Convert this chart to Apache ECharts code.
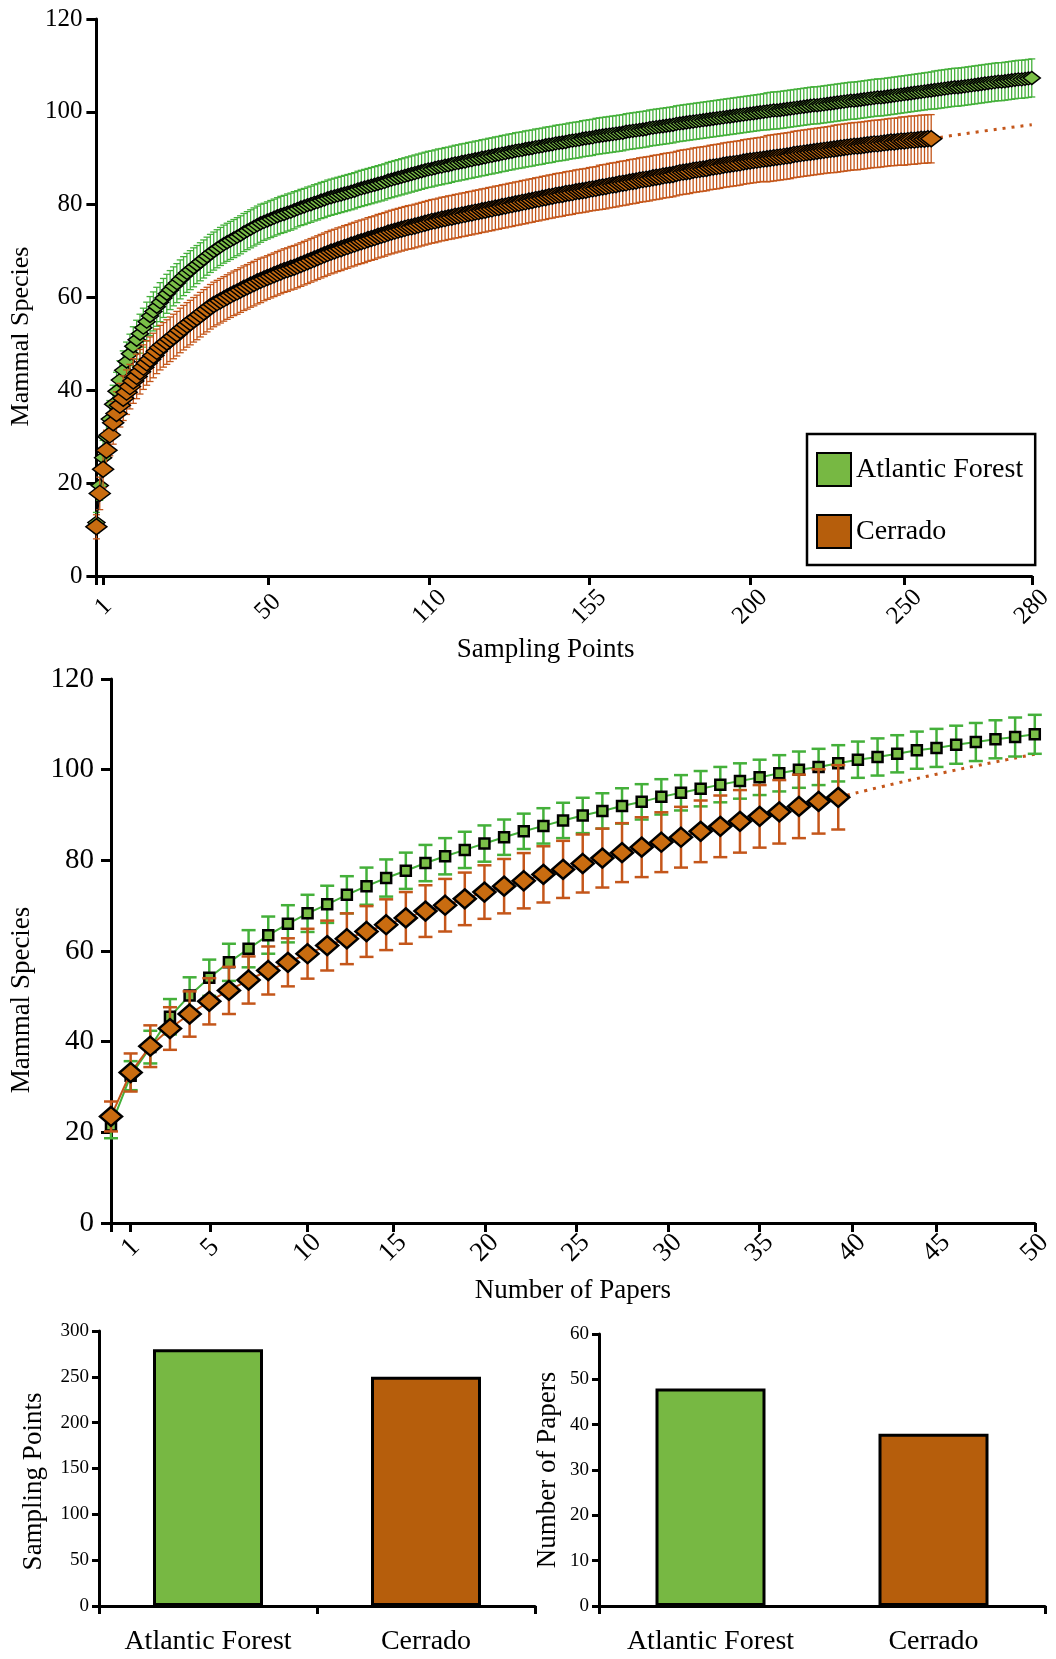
<!DOCTYPE html>
<html><head><meta charset="utf-8">
<script src="https://cdn.jsdelivr.net/npm/echarts@6/dist/echarts.min.js"></script>
<style>html,body{margin:0;padding:0;background:#fff}#c{width:1056px;height:1659px}</style>
</head><body><div id="c"></div>
<script>
// ---------- Top chart: species vs sampling points ----------
const topAtlantic = [
11.5,19.5,25.5,30.0,33.8,37.0,39.8,42.2,44.3,46.2,
47.9,49.5,50.9,52.2,53.5,54.8,56.0,57.0,58.0,59.0,
59.9,60.8,61.6,62.4,63.1,63.9,64.6,65.3,65.9,66.5,
67.1,67.7,68.3,68.9,69.5,70.0,70.5,71.0,71.5,71.9,
72.3,72.7,73.1,73.5,74.0,74.4,74.8,75.2,75.6,76.0,
76.3,76.6,76.9,77.2,77.5,77.8,78.0,78.3,78.5,78.8,
79.1,79.4,79.6,79.9,80.1,80.4,80.6,80.9,81.1,81.4,
81.6,81.8,82.0,82.2,82.4,82.6,82.8,83.0,83.3,83.5,
83.7,83.9,84.1,84.3,84.5,84.7,84.9,85.2,85.4,85.6,
85.8,86.0,86.2,86.4,86.6,86.8,87.0,87.2,87.4,87.6,
87.7,87.9,88.1,88.2,88.4,88.5,88.7,88.9,89.0,89.2,
89.3,89.5,89.6,89.8,89.9,90.1,90.2,90.4,90.5,90.7,
90.8,91.0,91.1,91.3,91.4,91.6,91.7,91.8,92.0,92.1,
92.2,92.4,92.5,92.6,92.8,92.9,93.0,93.2,93.3,93.4,
93.5,93.7,93.8,93.9,94.0,94.2,94.3,94.4,94.5,94.7,
94.8,94.9,95.0,95.1,95.2,95.3,95.4,95.5,95.7,95.8,
95.9,96.0,96.1,96.2,96.3,96.5,96.6,96.7,96.8,96.9,
97.0,97.1,97.2,97.4,97.5,97.6,97.7,97.8,97.9,98.0,
98.1,98.2,98.3,98.4,98.5,98.6,98.7,98.8,98.9,99.0,
99.1,99.2,99.3,99.4,99.5,99.6,99.7,99.8,99.9,100.0,
100.1,100.2,100.3,100.3,100.4,100.5,100.6,100.7,100.8,100.9,
101.0,101.1,101.2,101.3,101.4,101.4,101.5,101.6,101.7,101.8,
101.9,102.0,102.1,102.2,102.3,102.4,102.4,102.5,102.6,102.7,
102.8,102.9,103.0,103.1,103.1,103.2,103.3,103.4,103.5,103.6,
103.7,103.8,103.9,104.0,104.1,104.2,104.3,104.4,104.5,104.6,
104.7,104.8,104.9,105.0,105.1,105.2,105.3,105.3,105.4,105.5,
105.6,105.7,105.8,105.9,106.0,106.1,106.2,106.3,106.4,106.5,
106.5,106.6,106.7,106.8,106.9,107.0,107.0,107.1,107.2,107.3];
const topAtlanticSd = [
2.2,3.2,3.7,3.9,4.0,4.1,4.1,4.2,4.2,4.2,
4.2,4.2,4.2,4.2,4.2,4.2,4.2,4.2,4.2,4.2,
4.2,4.2,4.2,4.2,4.2,4.2,4.2,4.2,4.2,4.2,
4.1,4.1,4.1,4.1,4.1,4.1,4.1,4.1,4.1,4.1,
4.1,4.1,4.1,4.1,4.1,4.1,4.1,4.1,4.1,4.1,
4.0,4.0,4.0,4.0,4.0,4.0,4.0,4.0,4.0,4.0,
3.9,3.9,3.9,3.9,3.9,3.9,3.9,3.9,3.9,3.9,
3.9,3.9,3.9,3.9,3.9,3.9,3.9,3.9,3.9,3.9,
3.9,3.9,3.9,3.9,3.9,3.9,3.9,3.9,3.9,3.9,
3.9,3.9,3.9,3.9,3.9,3.9,3.9,3.9,3.9,3.9,
3.9,3.9,3.9,3.9,3.9,3.9,3.9,3.9,3.9,3.9,
3.9,3.9,3.9,3.9,3.9,3.9,3.9,3.9,3.9,3.9,
3.9,3.9,3.9,3.9,3.9,3.9,3.9,3.9,3.9,3.9,
3.9,3.9,3.9,3.9,3.9,3.9,3.9,3.9,3.9,3.9,
3.9,3.9,3.9,3.9,3.9,3.9,3.9,3.9,3.9,3.9,
3.9,3.9,3.9,3.9,3.9,3.9,3.9,3.9,3.9,3.9,
3.9,3.9,3.9,3.9,3.9,3.9,3.9,3.9,3.9,3.9,
3.9,3.9,3.9,3.9,3.9,3.9,3.9,3.9,3.9,3.9,
3.9,3.9,3.9,3.9,3.9,3.9,3.9,3.9,3.9,3.9,
3.9,3.9,3.9,3.9,3.9,3.9,3.9,3.9,3.9,3.9,
4.0,4.0,4.0,4.0,4.0,4.0,4.0,4.0,4.0,4.0,
4.0,4.0,4.0,4.0,4.0,4.0,4.0,4.0,4.0,4.0,
4.0,4.0,4.0,4.0,4.0,4.0,4.0,4.0,4.0,4.0,
4.0,4.0,4.0,4.0,4.0,4.0,4.0,4.0,4.0,4.0,
4.0,4.0,4.0,4.0,4.0,4.0,4.0,4.0,4.0,4.0,
4.1,4.1,4.1,4.1,4.1,4.1,4.1,4.1,4.1,4.1,
4.1,4.1,4.1,4.1,4.1,4.1,4.1,4.1,4.1,4.1,
4.1,4.1,4.1,4.1,4.1,4.1,4.1,4.1,4.1,4.1];
const topCerrado = [
10.6,17.8,23.0,27.1,30.4,33.0,35.0,36.8,38.3,39.6,
40.8,42.0,43.0,44.0,45.0,45.9,46.7,47.5,48.4,49.2,
49.8,50.4,51.0,51.6,52.2,52.9,53.5,54.1,54.6,55.2,
55.7,56.3,56.9,57.4,58.0,58.5,58.9,59.3,59.7,60.1,
60.5,60.9,61.2,61.6,62.0,62.3,62.7,63.0,63.4,63.7,
64.0,64.3,64.6,64.9,65.2,65.5,65.8,66.0,66.3,66.5,
66.8,67.1,67.4,67.7,68.0,68.3,68.6,68.9,69.2,69.5,
69.8,70.0,70.3,70.5,70.8,71.0,71.3,71.5,71.8,72.0,
72.2,72.5,72.7,72.9,73.2,73.4,73.6,73.9,74.1,74.3,
74.5,74.7,74.9,75.1,75.2,75.4,75.6,75.8,76.0,76.2,
76.4,76.5,76.7,76.9,77.0,77.2,77.3,77.5,77.6,77.8,
77.9,78.1,78.2,78.4,78.5,78.7,78.8,79.0,79.1,79.3,
79.4,79.6,79.7,79.9,80.0,80.2,80.3,80.5,80.6,80.8,
80.9,81.1,81.2,81.4,81.5,81.7,81.8,82.0,82.1,82.2,
82.4,82.5,82.6,82.8,82.9,83.0,83.1,83.3,83.4,83.5,
83.7,83.8,83.9,84.1,84.2,84.3,84.5,84.6,84.7,84.9,
85.0,85.1,85.3,85.4,85.5,85.6,85.8,85.9,86.0,86.2,
86.3,86.4,86.5,86.7,86.9,87.0,87.1,87.2,87.4,87.5,
87.6,87.7,87.8,88.0,88.1,88.2,88.3,88.5,88.6,88.7,
88.8,88.9,89.0,89.2,89.3,89.4,89.5,89.6,89.7,89.8,
89.9,90.0,90.1,90.2,90.3,90.4,90.5,90.6,90.8,90.9,
91.0,91.1,91.2,91.3,91.4,91.5,91.6,91.7,91.8,91.9,
92.0,92.1,92.2,92.3,92.4,92.5,92.6,92.6,92.7,92.8,
92.9,93.0,93.1,93.1,93.2,93.3,93.4,93.5,93.5,93.6,
93.7,93.7,93.8,93.9,93.9,94.0,94.1,94.1,94.2,94.2];
const topCerradoSd = [
2.6,3.5,4.0,4.3,4.5,4.6,4.7,4.7,4.8,4.8,
4.8,4.8,4.8,4.8,4.8,4.8,4.8,4.8,4.8,4.8,
4.8,4.8,4.8,4.8,4.8,4.8,4.8,4.8,4.8,4.8,
4.8,4.8,4.8,4.8,4.8,4.8,4.8,4.8,4.8,4.8,
4.8,4.8,4.8,4.8,4.8,4.8,4.8,4.8,4.8,4.8,
4.7,4.7,4.7,4.7,4.7,4.7,4.7,4.7,4.7,4.7,
4.7,4.7,4.7,4.7,4.7,4.7,4.7,4.7,4.7,4.7,
4.7,4.7,4.7,4.7,4.7,4.7,4.7,4.7,4.7,4.7,
4.7,4.7,4.7,4.7,4.7,4.7,4.7,4.7,4.7,4.7,
4.7,4.7,4.7,4.7,4.7,4.7,4.7,4.7,4.7,4.7,
4.7,4.7,4.7,4.7,4.7,4.7,4.7,4.7,4.7,4.7,
4.7,4.7,4.7,4.7,4.7,4.7,4.7,4.7,4.7,4.7,
4.7,4.7,4.7,4.7,4.7,4.7,4.7,4.7,4.7,4.7,
4.7,4.7,4.7,4.7,4.7,4.7,4.7,4.7,4.7,4.7,
4.7,4.7,4.7,4.7,4.7,4.7,4.7,4.7,4.7,4.7,
4.8,4.8,4.8,4.8,4.8,4.8,4.8,4.8,4.8,4.8,
4.8,4.8,4.8,4.8,4.8,4.8,4.8,4.8,4.8,4.8,
4.8,4.8,4.8,4.8,4.8,4.8,4.8,4.8,4.8,4.8,
4.8,4.8,4.8,4.8,4.8,4.8,4.8,4.8,4.8,4.8,
4.8,4.8,4.8,4.8,4.8,4.8,4.8,4.8,4.8,4.8,
5.0,5.0,5.0,5.0,5.0,5.0,5.0,5.0,5.0,5.0,
5.0,5.0,5.0,5.0,5.0,5.0,5.0,5.0,5.0,5.0,
5.1,5.1,5.1,5.1,5.1,5.1,5.1,5.1,5.1,5.1,
5.1,5.1,5.1,5.1,5.1,5.1,5.1,5.1,5.1,5.1,
5.2,5.2,5.2,5.2,5.2,5.2,5.2,5.2,5.2,5.2];
// dotted extrapolation of Cerrado (sample index, species)
const topCerradoExtrapIdx = [249, 264, 279];
const topCerradoExtrapVal = [94.2, 95.8, 97.2];
// odd tick labels of the original x axis, at their positions in sample-index units
const topTickLabels = ['1','50','110','155','200','250','280'];
const topTickPos = [2.1, 51.2, 99.4, 147.0, 195.0, 241.1, 279];

// ---------- Middle chart: species vs number of papers ----------
const papAtlantic = [21.5,32.5,38.8,45.5,50.2,54.1,57.5,60.5,63.5,66.0,
68.3,70.3,72.4,74.3,76.1,77.7,79.4,80.9,82.3,83.7,
85.1,86.4,87.6,88.8,89.9,90.9,92.0,92.9,94.0,94.9,
95.8,96.7,97.5,98.3,99.2,100.0,100.6,101.4,102.2,102.8,
103.5,104.3,104.8,105.5,106.1,106.7,107.2,107.8];
const papAtlanticSd = [2.8,3.2,3.6,3.9,4.0,4.0,4.1,4.1,4.1,4.1,
4.1,4.1,4.1,4.1,4.1,4.0,4.0,4.0,4.0,4.0,
3.9,3.9,3.9,3.9,3.9,3.9,3.9,3.9,3.9,3.9,
3.9,3.9,3.9,3.9,4.0,4.0,4.0,4.0,4.0,4.1,
4.1,4.1,4.2,4.2,4.2,4.2,4.3,4.3];
const papCerrado = [23.5,33.2,39.0,42.9,46.1,48.9,51.3,53.6,55.7,57.5,
59.4,61.2,62.7,64.3,65.8,67.3,68.8,70.1,71.5,73.0,
74.3,75.5,76.9,78.0,79.3,80.5,81.7,82.9,84.0,85.1,
86.4,87.5,88.6,89.7,90.7,91.9,93.0,93.9];
const papCerradoSd = [3.3,4.2,4.6,4.7,5.0,5.1,5.2,5.2,5.3,5.3,
5.5,5.5,5.6,5.6,5.6,5.7,5.7,5.8,5.8,5.9,
6.0,6.1,6.2,6.3,6.4,6.5,6.5,6.6,6.6,6.7,
6.8,6.8,6.9,6.9,7.0,7.0,7.1,7.1];
const papCerradoExtrapIdx = [37, 42, 47];
const papCerradoExtrapVal = [93.9, 99.0, 103.4];
const papTickLabels = ['1','5','10','15','20','25','30','35','40','45','50'];
const papTickPos = [1, 5.05, 10.0, 14.35, 19.03, 23.66, 28.35, 33.0, 37.7, 42.0, 47];

// ---------- Bottom bars ----------
const biomes = ['Atlantic Forest', 'Cerrado'];
const samplingPoints = [280, 250];
const numberOfPapers = [48, 38];

// ---------- styles ----------
const FONT = 'Liberation Serif';
const GREEN_BAR = '#77b843', ORANGE_BAR = '#b65e0c';
const GREEN_MK = '#7bbf48', ORANGE_MK = '#c96c10';
const GREEN_ERR = '#44b03a', ORANGE_ERR = '#c4561a';

const chart = echarts.init(document.getElementById('c'), null, {renderer: 'canvas'});

function errRender(capW, color, lw) {
  return function (params, api) {
    const lo = api.coord([api.value(0), api.value(1)]);
    const hi = api.coord([api.value(0), api.value(2)]);
    const st = {stroke: color, lineWidth: lw};
    return {type: 'group', children: [
      {type: 'line', shape: {x1: lo[0], y1: lo[1], x2: hi[0], y2: hi[1]}, style: st},
      {type: 'line', shape: {x1: lo[0] - capW / 2, y1: lo[1], x2: lo[0] + capW / 2, y2: lo[1]}, style: st},
      {type: 'line', shape: {x1: hi[0] - capW / 2, y1: hi[1], x2: hi[0] + capW / 2, y2: hi[1]}, style: st}
    ]};
  };
}
const errData = (m, sd) => m.map((v, i) => [i, +(v - sd[i]).toFixed(2), +(v + sd[i]).toFixed(2)]);
const pairs = (idx, val) => idx.map((x, i) => [x, val[i]]);

const axisLine = {show: true, lineStyle: {color: '#000', width: 3}};
const yTick = {show: true, inside: false, length: 10, lineStyle: {color: '#000', width: 3}};

const option = {
  animation: false,
  backgroundColor: '#fff',
  textStyle: {fontFamily: FONT, color: '#000'},
  legend: {
    left: 807, top: 434, orient: 'vertical',
    itemWidth: 34, itemHeight: 33, itemGap: 27,
    padding: [18, 12, 16, 9],
    borderColor: '#000', borderWidth: 2.5, backgroundColor: '#fff',
    textStyle: {fontFamily: FONT, fontSize: 28, color: '#000'},
    selectedMode: false,
    data: [
      {name: 'Atlantic Forest', icon: 'rect', itemStyle: {color: GREEN_BAR, borderColor: '#000', borderWidth: 2}},
      {name: 'Cerrado', icon: 'rect', itemStyle: {color: ORANGE_BAR, borderColor: '#000', borderWidth: 2}}
    ]
  },
  grid: [
    {left: 94, top: 19, width: 943, height: 557},
    {left: 110, top: 679, width: 930, height: 544},
    {left: 99, top: 1331, width: 436, height: 275},
    {left: 599, top: 1334, width: 446, height: 272}
  ],
  xAxis: [
    {gridIndex: 0, type: 'category', data: topAtlantic.map((_, i) => String(i + 1)), boundaryGap: false, show: false},
    {gridIndex: 0, type: 'value', min: 0, max: 279, position: 'bottom',
      axisLine: axisLine,
      axisTick: {show: true, length: 9, lineStyle: {color: '#000', width: 3}, customValues: [0].concat(topTickPos)},
      axisLabel: {customValues: topTickPos, rotate: 45, fontSize: 25, fontFamily: FONT, color: '#000', margin: 31,
        align: 'center', verticalAlign: 'middle',
        formatter: v => topTickLabels[topTickPos.indexOf(v)]},
      splitLine: {show: false},
      name: 'Sampling Points', nameLocation: 'middle', nameGap: 60,
      nameTextStyle: {fontFamily: FONT, fontSize: 27, color: '#000', padding: [0, 37, 0, 0]}},
    {gridIndex: 1, type: 'category', data: papAtlantic.map((_, i) => String(i + 1)), boundaryGap: false, show: false},
    {gridIndex: 1, type: 'value', min: 0, max: 47, position: 'bottom',
      axisLine: axisLine,
      axisTick: {show: true, length: 9, lineStyle: {color: '#000', width: 3}, customValues: [0].concat(papTickPos)},
      axisLabel: {customValues: papTickPos, rotate: 45, fontSize: 27, fontFamily: FONT, color: '#000', margin: 25,
        align: 'center', verticalAlign: 'middle',
        formatter: v => papTickLabels[papTickPos.indexOf(v)]},
      splitLine: {show: false},
      name: 'Number of Papers', nameLocation: 'middle', nameGap: 54,
      nameTextStyle: {fontFamily: FONT, fontSize: 27, color: '#000'}},
    {gridIndex: 2, type: 'category', data: biomes,
      axisLine: {show: true, lineStyle: {color: '#000', width: 3}},
      axisTick: {show: true, length: 8, lineStyle: {color: '#000', width: 3}},
      axisLabel: {fontSize: 28, fontFamily: FONT, color: '#000', margin: 22}},
    {gridIndex: 3, type: 'category', data: biomes,
      axisLine: {show: true, lineStyle: {color: '#000', width: 3}},
      axisTick: {show: true, length: 8, interval: 1, lineStyle: {color: '#000', width: 3}},
      axisLabel: {fontSize: 28, fontFamily: FONT, color: '#000', margin: 22}}
  ],
  yAxis: [
    {gridIndex: 0, type: 'value', min: 0, max: 120, interval: 20,
      axisLine: axisLine, axisTick: yTick, splitLine: {show: false},
      axisLabel: {fontSize: 25, fontFamily: FONT, color: '#000', margin: 14},
      name: 'Mammal Species', nameLocation: 'middle', nameGap: 60,
      nameTextStyle: {fontFamily: FONT, fontSize: 26, color: '#000', padding: [0, 78, 0, 0]}},
    {gridIndex: 1, type: 'value', min: 0, max: 120, interval: 20,
      axisLine: axisLine, axisTick: yTick, splitLine: {show: false},
      axisLabel: {fontSize: 29, fontFamily: FONT, color: '#000', margin: 17},
      name: 'Mammal Species', nameLocation: 'middle', nameGap: 76,
      nameTextStyle: {fontFamily: FONT, fontSize: 27, color: '#000', padding: [0, 98, 0, 0]}},
    {gridIndex: 2, type: 'value', min: 0, max: 300, interval: 50,
      axisLine: axisLine, axisTick: {show: true, length: 7, lineStyle: {color: '#000', width: 3}}, splitLine: {show: false},
      axisLabel: {fontSize: 19, fontFamily: FONT, color: '#000', margin: 10},
      name: 'Sampling Points', nameLocation: 'middle', nameGap: 52,
      nameTextStyle: {fontFamily: FONT, fontSize: 27, color: '#000', padding: [0, 26, 0, 0]}},
    {gridIndex: 3, type: 'value', min: 0, max: 60, interval: 10,
      axisLine: axisLine, axisTick: {show: true, length: 7, lineStyle: {color: '#000', width: 3}}, splitLine: {show: false},
      axisLabel: {fontSize: 19, fontFamily: FONT, color: '#000', margin: 10},
      name: 'Number of Papers', nameLocation: 'middle', nameGap: 38,
      nameTextStyle: {fontFamily: FONT, fontSize: 27, color: '#000'}}
  ],
  series: [
    // top chart
    {type: 'custom', name: 'Atlantic Forest err', xAxisIndex: 0, yAxisIndex: 0, silent: true, z: 2,
      renderItem: errRender(7, GREEN_ERR, 1.3), encode: {x: 0, y: [1, 2]}, data: errData(topAtlantic, topAtlanticSd)},
    {type: 'line', name: 'Atlantic Forest', xAxisIndex: 0, yAxisIndex: 0, silent: true, z: 3,
      data: topAtlantic, symbol: 'diamond', symbolSize: [17, 13], showAllSymbol: true,
      itemStyle: {color: GREEN_MK, borderColor: '#000', borderWidth: 1.5},
      lineStyle: {color: '#000', width: 1}},
    {type: 'custom', name: 'Cerrado err', xAxisIndex: 0, yAxisIndex: 0, silent: true, z: 4,
      renderItem: errRender(7, ORANGE_ERR, 1.3), encode: {x: 0, y: [1, 2]}, data: errData(topCerrado, topCerradoSd)},
    {type: 'line', name: 'Cerrado', xAxisIndex: 0, yAxisIndex: 0, silent: true, z: 5,
      data: topCerrado, symbol: 'diamond', symbolSize: [21, 16], showAllSymbol: true,
      itemStyle: {color: ORANGE_MK, borderColor: '#000', borderWidth: 1.5},
      lineStyle: {color: '#000', width: 1}},
    {type: 'line', name: 'Cerrado extrapolated', xAxisIndex: 0, yAxisIndex: 0, silent: true, z: 1,
      data: pairs(topCerradoExtrapIdx, topCerradoExtrapVal), symbol: 'none', smooth: true,
      lineStyle: {color: ORANGE_ERR, width: 3, type: [3, 6]}},
    // middle chart
    {type: 'custom', name: 'Atlantic Forest err2', xAxisIndex: 2, yAxisIndex: 1, silent: true, z: 2,
      renderItem: errRender(14, GREEN_ERR, 2.5), encode: {x: 0, y: [1, 2]}, data: errData(papAtlantic, papAtlanticSd)},
    {type: 'line', name: 'Atlantic Forest', xAxisIndex: 2, yAxisIndex: 1, silent: true, z: 3,
      data: papAtlantic, symbol: 'rect', symbolSize: 10, showAllSymbol: true,
      itemStyle: {color: GREEN_MK, borderColor: '#000', borderWidth: 2.5},
      lineStyle: {color: GREEN_ERR, width: 2}},
    {type: 'custom', name: 'Cerrado err2', xAxisIndex: 2, yAxisIndex: 1, silent: true, z: 4,
      renderItem: errRender(14, ORANGE_ERR, 2.5), encode: {x: 0, y: [1, 2]}, data: errData(papCerrado, papCerradoSd)},
    {type: 'line', name: 'Cerrado', xAxisIndex: 2, yAxisIndex: 1, silent: true, z: 5,
      data: papCerrado, symbol: 'diamond', symbolSize: [22, 19], showAllSymbol: true,
      itemStyle: {color: ORANGE_MK, borderColor: '#000', borderWidth: 2.5},
      lineStyle: {color: ORANGE_ERR, width: 2}},
    {type: 'line', name: 'Cerrado extrapolated', xAxisIndex: 2, yAxisIndex: 1, silent: true, z: 1,
      data: pairs(papCerradoExtrapIdx, papCerradoExtrapVal), symbol: 'none', smooth: true,
      lineStyle: {color: ORANGE_ERR, width: 3, type: [3, 6]}},
    // bars
    {type: 'bar', name: 'Sampling Points', xAxisIndex: 4, yAxisIndex: 2, silent: true, barWidth: 110,
      data: samplingPoints.map((v, i) => ({value: v, itemStyle: {color: i === 0 ? GREEN_BAR : ORANGE_BAR}})),
      itemStyle: {borderColor: '#000', borderWidth: 3}},
    {type: 'bar', name: 'Number of Papers', xAxisIndex: 5, yAxisIndex: 3, silent: true, barWidth: 110,
      data: numberOfPapers.map((v, i) => ({value: v, itemStyle: {color: i === 0 ? GREEN_BAR : ORANGE_BAR}})),
      itemStyle: {borderColor: '#000', borderWidth: 3}}
  ]
};
chart.setOption(option);
</script>
</body></html>
